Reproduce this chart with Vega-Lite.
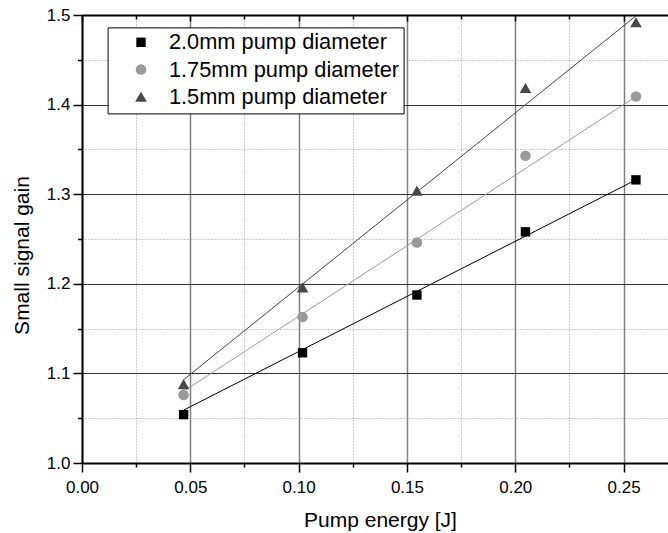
{
  "$schema": "https://vega.github.io/schema/vega-lite/v6.json",
  "width": 586,
  "height": 448,
  "autosize": {"type": "none"},
  "padding": {"left": 82, "top": 15, "right": 0, "bottom": 70},
  "background": "white",
  "config": {
    "view": {"stroke": null},
    "font": "Liberation Sans",
    "axis": {"labelColor": "black", "titleColor": "black", "labelFont": "Liberation Sans", "titleFont": "Liberation Sans", "titleFontWeight": "normal", "tickColor": "black", "domainColor": "black", "labelFlush": false},
    "legend": {"labelFont": "Liberation Sans", "labelColor": "black"}
  },
  "datasets": {
    "points": [
      {"series": "2.0mm pump diameter", "energy": 0.0469, "gain": 1.054},
      {"series": "2.0mm pump diameter", "energy": 0.1018, "gain": 1.123},
      {"series": "2.0mm pump diameter", "energy": 0.1546, "gain": 1.1875},
      {"series": "2.0mm pump diameter", "energy": 0.2047, "gain": 1.258},
      {"series": "2.0mm pump diameter", "energy": 0.2557, "gain": 1.316},
      {"series": "1.75mm pump diameter", "energy": 0.0469, "gain": 1.076},
      {"series": "1.75mm pump diameter", "energy": 0.1018, "gain": 1.163},
      {"series": "1.75mm pump diameter", "energy": 0.1546, "gain": 1.246},
      {"series": "1.75mm pump diameter", "energy": 0.2047, "gain": 1.343},
      {"series": "1.75mm pump diameter", "energy": 0.2557, "gain": 1.409},
      {"series": "1.5mm pump diameter", "energy": 0.0469, "gain": 1.088},
      {"series": "1.5mm pump diameter", "energy": 0.1018, "gain": 1.196},
      {"series": "1.5mm pump diameter", "energy": 0.1546, "gain": 1.304},
      {"series": "1.5mm pump diameter", "energy": 0.2047, "gain": 1.4185},
      {"series": "1.5mm pump diameter", "energy": 0.2557, "gain": 1.492}
    ],
    "fits": [
      {"series": "2.0mm pump diameter", "energy": 0.0469, "gain": 1.059},
      {"series": "2.0mm pump diameter", "energy": 0.2557, "gain": 1.316},
      {"series": "1.75mm pump diameter", "energy": 0.0469, "gain": 1.080},
      {"series": "1.75mm pump diameter", "energy": 0.2557, "gain": 1.409},
      {"series": "1.5mm pump diameter", "energy": 0.0469, "gain": 1.093},
      {"series": "1.5mm pump diameter", "energy": 0.2557, "gain": 1.499}
    ]
  },
  "layer": [
    {
      "data": {"name": "fits"},
      "transform": [{"filter": "datum.series === '2.0mm pump diameter'"}],
      "mark": {"type": "line", "strokeWidth": 1, "color": "#000000"},
      "encoding": {
        "x": {
          "field": "energy", "type": "quantitative",
          "scale": {"domain": [0, 0.2705], "nice": false, "zero": false},
          "axis": {"orient": "bottom", "values": [0.025, 0.075, 0.125, 0.175, 0.225], "grid": true, "gridDash": [1, 2], "gridColor": "#9a9a9a", "gridWidth": 1, "labels": false, "ticks": true, "tickSize": 4, "tickWidth": 1.5, "domain": false, "title": null}
        },
        "y": {
          "field": "gain", "type": "quantitative",
          "scale": {"domain": [1.0, 1.5], "nice": false, "zero": false},
          "axis": {"orient": "left", "values": [1.05, 1.15, 1.25, 1.35, 1.45], "grid": true, "gridDash": [1, 2], "gridColor": "#9a9a9a", "gridWidth": 1, "labels": false, "ticks": true, "tickSize": 4.5, "tickWidth": 1.5, "domain": false, "title": null}
        }
      }
    },
    {
      "data": {"name": "fits"},
      "transform": [{"filter": "datum.series === '1.75mm pump diameter'"}],
      "mark": {"type": "line", "strokeWidth": 1, "color": "#9a9a9a"},
      "encoding": {
        "x": {"field": "energy", "type": "quantitative", "axis": null},
        "y": {"field": "gain", "type": "quantitative", "axis": null}
      }
    },
    {
      "data": {"name": "fits"},
      "transform": [{"filter": "datum.series === '1.5mm pump diameter'"}],
      "mark": {"type": "line", "strokeWidth": 1, "color": "#444444"},
      "encoding": {
        "x": {"field": "energy", "type": "quantitative", "axis": null},
        "y": {"field": "gain", "type": "quantitative", "axis": null}
      }
    },
    {
      "data": {"name": "points"},
      "mark": {"type": "point", "filled": true, "opacity": 1, "strokeWidth": 0},
      "encoding": {
        "x": {
          "field": "energy", "type": "quantitative",
          "axis": {"orient": "bottom", "values": [0, 0.05, 0.1, 0.15, 0.2, 0.25], "format": ".2f", "grid": true, "gridColor": "#808080", "gridWidth": 1.5, "ticks": true, "tickSize": 9, "tickWidth": 1.5, "domain": true, "domainWidth": 2, "labelFontSize": 17, "labelPadding": 7, "title": "Pump energy [J]", "titleFontSize": 21, "titleX": 298, "titleY": 63, "titleBaseline": "alphabetic", "titleAlign": "center"}
        },
        "y": {
          "field": "gain", "type": "quantitative",
          "axis": {"orient": "left", "values": [1.0, 1.1, 1.2, 1.3, 1.4, 1.5], "format": ".1f", "grid": true, "gridColor": "#333333", "gridWidth": 1, "ticks": true, "tickSize": 9, "tickWidth": 1.5, "domain": true, "domainWidth": 2, "labelFontSize": 17, "labelPadding": 3, "title": "Small signal gain", "titleFontSize": 21, "titleX": -54, "titleY": 240, "titleAngle": 270, "titleBaseline": "alphabetic", "titleAlign": "center"}
        },
        "color": {
          "field": "series", "type": "nominal",
          "scale": {"domain": ["2.0mm pump diameter", "1.75mm pump diameter", "1.5mm pump diameter"], "range": ["#000000", "#9a9a9a", "#474747"]},
          "legend": {"orient": "none", "legendX": 25.6, "legendY": 12.4, "title": null, "labelFontSize": 21.8, "labelLimit": 400, "strokeColor": "black", "fillColor": "white", "padding": 4, "rowPadding": 4.2, "symbolOffset": 18.5, "labelOffset": 17, "symbolStrokeWidth": 0}
        },
        "shape": {
          "field": "series", "type": "nominal",
          "scale": {"domain": ["2.0mm pump diameter", "1.75mm pump diameter", "1.5mm pump diameter"], "range": ["square", "circle", "triangle-up"]}
        },
        "size": {
          "field": "series", "type": "nominal",
          "scale": {"domain": ["2.0mm pump diameter", "1.75mm pump diameter", "1.5mm pump diameter"], "range": [88, 135, 210]}
        }
      }
    },
    {
      "data": {"name": "points"},
      "mark": {"type": "point", "opacity": 0},
      "encoding": {
        "x": {
          "field": "energy", "type": "quantitative",
          "axis": {"orient": "top", "values": [0, 0.05, 0.1, 0.15, 0.2, 0.25], "grid": false, "labels": false, "ticks": true, "tickSize": -6, "tickWidth": 1.5, "domain": true, "domainWidth": 2, "title": null}
        },
        "y": {"field": "gain", "type": "quantitative", "axis": null}
      }
    },
    {
      "data": {"name": "points"},
      "mark": {"type": "point", "opacity": 0},
      "encoding": {
        "x": {
          "field": "energy", "type": "quantitative",
          "axis": {"orient": "top", "values": [0.025, 0.075, 0.125, 0.175, 0.225], "grid": false, "labels": false, "ticks": true, "tickSize": -4, "tickWidth": 1.5, "domain": false, "title": null}
        },
        "y": {"field": "gain", "type": "quantitative", "axis": null}
      }
    }
  ],
  "resolve": {"axis": {"x": "independent", "y": "independent"}}
}
